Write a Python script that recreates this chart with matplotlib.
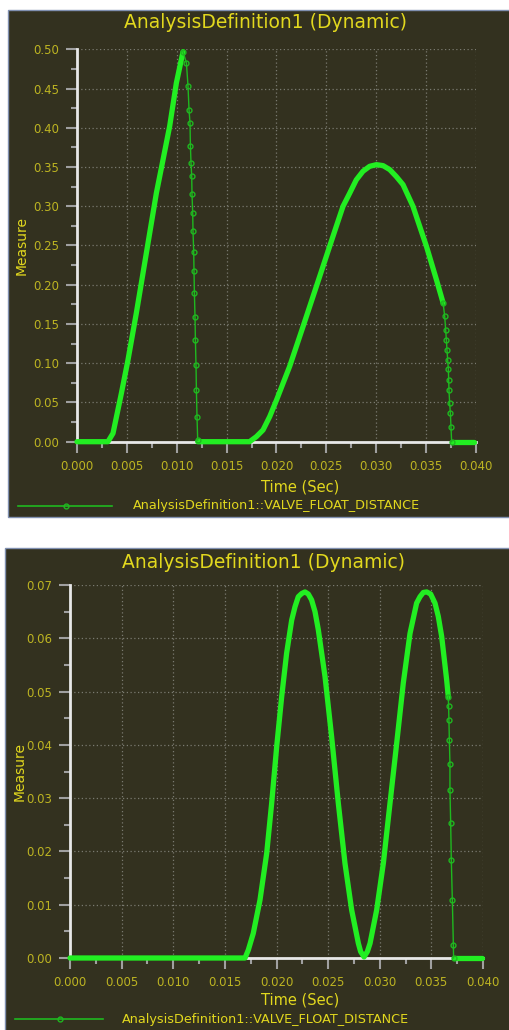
import matplotlib
matplotlib.use("Agg")
import matplotlib.pyplot as plt
from matplotlib.patches import Rectangle
from matplotlib.lines import Line2D
from matplotlib.ticker import MultipleLocator, FormatStrFormatter

# ---- top chart: valve float distance, run 1 ----
# densely sampled parts of the curve (drawn as a thick band)
top_dense_t = [0.0, 0.0031, 0.00361, 0.00445, 0.00511, 0.00595, 0.00662, 0.00729,
               0.00796, 0.00862, 0.00929, 0.00996, 0.01063]
top_dense_v = [0.0, 0.0, 0.0107, 0.0617, 0.104, 0.164, 0.215, 0.266,
               0.317, 0.359, 0.402, 0.457, 0.497]
top_dense2_t = [0.0121, 0.0173, 0.01798, 0.01865, 0.01932, 0.0200, 0.02132, 0.02266,
                0.0240, 0.02533, 0.026, 0.02667, 0.02734, 0.0280, 0.02867, 0.02934,
                0.03002, 0.03068, 0.03135, 0.0320, 0.03268, 0.03368, 0.03435, 0.03503,
                0.03603, 0.0367]
top_dense2_v = [0.0, 0.0, 0.0064, 0.0149, 0.032, 0.053, 0.096, 0.1467,
                0.198, 0.249, 0.2746, 0.300, 0.3167, 0.3337, 0.3446, 0.3509,
                0.353, 0.3518, 0.3467, 0.338, 0.3276, 0.300, 0.2746, 0.249,
                0.2066, 0.177]
top_dense3_t = [0.03756, 0.0398]
top_dense3_v = [0.0, 0.0]
# sparse (steep) drops where the single samples are visible
top_drop1_t = [0.01063, 0.01097, 0.01113, 0.01123, 0.01133, 0.01137, 0.01143, 0.0115,
               0.01153, 0.0116, 0.01163, 0.0117, 0.01173, 0.01177, 0.01183, 0.01187,
               0.01193, 0.01197, 0.01203, 0.0121]
top_drop1_v = [0.497, 0.4825, 0.453, 0.423, 0.406, 0.377, 0.355, 0.338,
               0.315, 0.291, 0.268, 0.242, 0.217, 0.189, 0.159, 0.130,
               0.098, 0.066, 0.032, 0.002]
top_drop2_t = [0.0367, 0.03686, 0.03696, 0.03703, 0.03709, 0.03716, 0.03723, 0.03726,
               0.03729, 0.03736, 0.03743, 0.03749, 0.03756]
top_drop2_v = [0.177, 0.160, 0.1425, 0.130, 0.117, 0.1046, 0.092, 0.079,
               0.066, 0.049, 0.0366, 0.019, 0.0]

# ---- bottom chart: valve float distance, run 2 ----
bot_dense_t = [0.0, 0.01695, 0.01727, 0.01775, 0.0184, 0.01905, 0.01953, 0.02002,
               0.0205, 0.02098, 0.02147, 0.02179, 0.02211, 0.02244, 0.02276, 0.02308,
               0.0234, 0.02373, 0.02405, 0.0247, 0.02534, 0.02599, 0.02663, 0.02728,
               0.02793, 0.02815, 0.02848, 0.0288, 0.02906, 0.0297, 0.03035, 0.03099,
               0.03164, 0.03228, 0.03293, 0.03357, 0.0339, 0.03422, 0.03455, 0.03493,
               0.03535, 0.03567, 0.036, 0.03648, 0.03664]
bot_dense_v = [0.0, 0.0, 0.0015, 0.00463, 0.01088, 0.01965, 0.0290, 0.0397,
               0.0490, 0.0572, 0.0634, 0.0659, 0.0678, 0.0684, 0.0687, 0.0683,
               0.0672, 0.065, 0.0616, 0.0528, 0.0415, 0.0290, 0.0178, 0.0090,
               0.00275, 0.0012, 0.0002, 0.0012, 0.00275, 0.0090, 0.0178, 0.0290,
               0.0403, 0.0516, 0.0609, 0.0666, 0.0678, 0.0686, 0.0687, 0.0683,
               0.0666, 0.0641, 0.0603, 0.0522, 0.0490]
bot_dense2_t = [0.03715, 0.0399]
bot_dense2_v = [0.0, 0.0]
bot_drop_t = [0.03664, 0.03667, 0.0367, 0.03674, 0.0368, 0.0368, 0.03687, 0.03693,
              0.03703, 0.03713, 0.03715]
bot_drop_v = [0.0490, 0.0472, 0.0447, 0.0409, 0.0365, 0.0315, 0.0253, 0.0184,
              0.0109, 0.0024, 0.0]

title = "AnalysisDefinition1 (Dynamic)"
legend_label = "AnalysisDefinition1::VALVE_FLOAT_DISTANCE"

W, H = 510, 1030
BG = "#33311f"
YEL = "#e2d81e"
TICKYEL = "#bdb422"
GREEN = "#22ee22"
DARKGREEN = "#1fb81f"


def fx(px):
    return px / W


def fy(py):
    return 1 - py / H


def panel(fig, box, ax_box, ymax, ystep, yfmt, dense, drops, title_y, xlabel_y, ylabel_x,
          legend_y, legend_x):
    x0, y0, x1, y1 = box
    fig.patches.append(Rectangle((fx(x0), fy(y1)), fx(x1 - x0), (y1 - y0) / H,
                                 transform=fig.transFigure, facecolor=BG,
                                 edgecolor="#8090b0", linewidth=1.0, zorder=-5))
    l, r, b, t = ax_box
    ax = fig.add_axes([fx(l), fy(b), fx(r - l), (b - t) / H])
    ax.set_facecolor(BG)
    for xs, ys in dense:
        ax.plot(xs, ys, color=GREEN, lw=3.8, solid_capstyle="round",
                solid_joinstyle="round", zorder=3, clip_on=False)
    for xs, ys in drops:
        ax.plot(xs, ys, color=DARKGREEN, lw=1.0, marker="o", ms=3.5, mfc="none",
                mec=DARKGREEN, mew=1.0, zorder=3, clip_on=False)
    ax.set_xlim(0, 0.04)
    ax.set_ylim(0, ymax)
    ax.xaxis.set_major_locator(MultipleLocator(0.005))
    ax.xaxis.set_minor_locator(MultipleLocator(0.0025))
    ax.yaxis.set_major_locator(MultipleLocator(ystep))
    ax.yaxis.set_minor_locator(MultipleLocator(ystep / 2))
    ax.xaxis.set_major_formatter(FormatStrFormatter("%.3f"))
    ax.yaxis.set_major_formatter(FormatStrFormatter(yfmt))
    ax.grid(True, which="major", color="#7a7a70", linestyle=(0, (1, 2)), linewidth=0.9)
    for s in ["top", "right"]:
        ax.spines[s].set_visible(False)
    for s in ["left", "bottom"]:
        ax.spines[s].set_color("#e8e8e8")
        ax.spines[s].set_linewidth(2)
    ax.tick_params(which="major", length=8, width=1.5, color="#a0a0a0",
                   labelcolor=TICKYEL, labelsize=8.5, pad=5)
    ax.tick_params(which="minor", length=4, width=1.5, color="#a0a0a0")
    fig.text(fx((x0 + 510) / 2 + 6), fy(title_y), title, color=YEL, fontsize=13.5,
             ha="center", va="center")
    fig.text(fx((l + r) / 2 + 24), fy(xlabel_y), "Time (Sec)", color=YEL, fontsize=10.5,
             ha="center", va="center")
    fig.text(fx(ylabel_x), fy((t + b) / 2), "Measure", color=YEL, fontsize=10,
             ha="center", va="center", rotation=90)
    lx0, lx1, mx, tx = legend_x
    fig.add_artist(Line2D([fx(lx0), fx(lx1)], [fy(legend_y), fy(legend_y)],
                          transform=fig.transFigure, color=DARKGREEN, lw=1.2))
    fig.add_artist(Line2D([fx(mx)], [fy(legend_y)], transform=fig.transFigure,
                          marker="o", ms=3.5, mfc="none", mec=DARKGREEN, mew=1.0))
    fig.text(fx(tx), fy(legend_y), legend_label, color=YEL, fontsize=9.2,
             ha="left", va="center")
    return ax


fig = plt.figure(figsize=(W / 100, H / 100), dpi=100, facecolor="white")

panel(fig, (8, 10, 515, 517), (77, 476, 441.7, 49.3), 0.50, 0.05, "%.2f",
      [(top_dense_t, top_dense_v), (top_dense2_t, top_dense2_v), (top_dense3_t, top_dense3_v)],
      [(top_drop1_t, top_drop1_v), (top_drop2_t, top_drop2_v)],
      22, 487, 22, 506, (18, 112, 66, 133))

panel(fig, (5, 548, 515, 1035), (70, 483, 958, 585), 0.07, 0.01, "%.2f",
      [(bot_dense_t, bot_dense_v), (bot_dense2_t, bot_dense2_v)],
      [(bot_drop_t, bot_drop_v)],
      562, 1000, 20, 1019, (15, 103, 60, 122))

fig.savefig("out.png", dpi=100, facecolor="white")
